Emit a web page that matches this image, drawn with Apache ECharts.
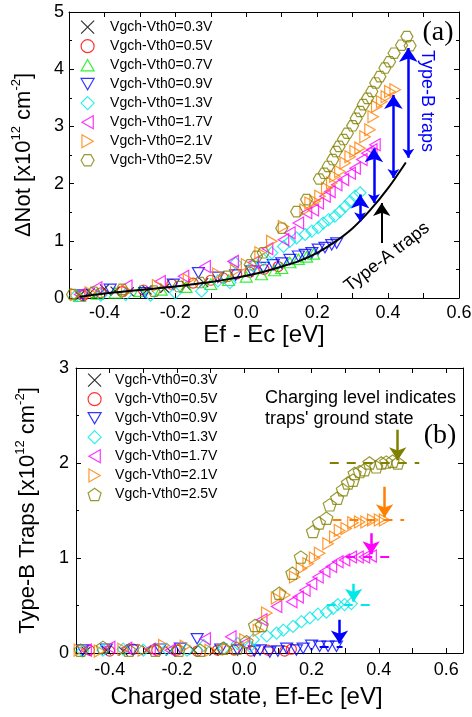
<!DOCTYPE html>
<html>
<head>
<meta charset="utf-8">
<script src="https://cdn.jsdelivr.net/npm/echarts@6/dist/echarts.min.js"></script>
<style>
  html, body { margin: 0; padding: 0; background: #fff; }
  #chart { width: 472px; height: 717px; }
</style>
</head>
<body>
<div id="chart"></div>
<script>
// ---------- data: panel (a), ΔNot vs Ef - Ec ----------
const legendNames = ['Vgch-Vth0=0.3V', 'Vgch-Vth0=0.5V', 'Vgch-Vth0=0.7V', 'Vgch-Vth0=0.9V',
                     'Vgch-Vth0=1.3V', 'Vgch-Vth0=1.7V', 'Vgch-Vth0=2.1V', 'Vgch-Vth0=2.5V'];

const notV03 = [[-0.47,0.04],[-0.44,0.09],[-0.40,0.16],[-0.37,0.12],[-0.33,0.11],[-0.28,0.14],[-0.23,0.17],[-0.17,0.22],[-0.12,0.27]];
const notV05 = [[-0.46,0.04],[-0.41,0.09],[-0.35,0.11],[-0.29,0.14],[-0.21,0.24],[-0.15,0.26],[-0.10,0.31],[-0.065,0.35],[-0.027,0.42],[0.01,0.45],[0.05,0.50],[0.09,0.55]];
const notV07 = [[-0.47,0.03],[-0.42,0.07],[-0.37,0.09],[-0.30,0.12],[-0.24,0.14],[-0.17,0.19],[-0.10,0.24],[-0.05,0.31],[0.0,0.37],[0.043,0.41],[0.08,0.48],[0.10,0.52],[0.123,0.62],[0.147,0.68],[0.17,0.72],[0.19,0.77]];
const notV09 = [[-0.46,0.05],[-0.384,0.15],[-0.286,0.09],[-0.206,0.24],[-0.135,0.44],[-0.08,0.36],[-0.03,0.40],[0.015,0.47],[0.048,0.53],[0.076,0.58],[0.10,0.61],[0.123,0.67],[0.147,0.73],[0.166,0.76],[0.185,0.79],[0.203,0.85],[0.222,0.88],[0.241,0.93],[0.255,0.96]];
const notV13 = [[-0.48,0.04],[-0.41,0.05],[-0.34,0.06],[-0.27,0.05],[-0.20,0.09],[-0.126,0.12],[-0.08,0.30],[-0.046,0.27],[-0.03,0.61],[0.02,0.56],[0.048,0.67],[0.072,0.79],[0.105,0.90],[0.123,0.99],[0.142,1.05],[0.166,1.11],[0.185,1.17],[0.203,1.23],[0.217,1.31],[0.232,1.37],[0.25,1.43],[0.264,1.51],[0.279,1.60],[0.293,1.69],[0.307,1.78],[0.321,1.84]];
const notV17 = [[-0.47,0.06],[-0.422,0.18],[-0.337,0.21],[-0.243,0.29],[-0.177,0.38],[-0.116,0.55],[-0.037,0.64],[0.02,0.62],[0.06,0.86],[0.105,1.02],[0.123,1.14],[0.147,1.31],[0.17,1.49],[0.189,1.54],[0.203,1.66],[0.222,1.78],[0.236,1.86],[0.255,1.98],[0.274,2.07],[0.293,2.18],[0.307,2.27],[0.326,2.42],[0.34,2.53],[0.354,2.59],[0.363,2.68]];
const notV21 = [[-0.48,0.06],[-0.44,0.09],[-0.337,0.12],[-0.25,0.22],[-0.163,0.32],[-0.08,0.42],[-0.03,0.48],[0.001,0.58],[0.039,0.79],[0.072,0.99],[0.105,1.25],[0.166,1.54],[0.18,1.66],[0.194,1.69],[0.208,1.78],[0.227,1.92],[0.241,2.01],[0.25,2.13],[0.264,2.21],[0.279,2.36],[0.293,2.47],[0.307,2.56],[0.321,2.62],[0.335,2.82],[0.349,2.94],[0.358,3.17],[0.368,3.35],[0.382,3.43],[0.395,3.52],[0.405,3.61],[0.42,3.64]];
const notV25 = [[-0.49,0.06],[-0.43,0.10],[-0.35,0.15],[-0.26,0.12],[-0.19,0.20],[-0.13,0.27],[-0.055,0.38],[0.011,0.58],[0.029,0.73],[0.048,0.79],[0.10,1.22],[0.142,1.51],[0.17,1.72],[0.206,2.08],[0.22,2.18],[0.231,2.30],[0.244,2.42],[0.253,2.56],[0.262,2.65],[0.274,2.77],[0.285,2.88],[0.30,3.01],[0.31,3.14],[0.321,3.26],[0.33,3.38],[0.342,3.49],[0.354,3.61],[0.365,3.76],[0.377,3.87],[0.391,4.02],[0.404,4.13],[0.417,4.28],[0.438,4.42],[0.462,4.41],[0.453,4.57]];

// Type-A trap background curve
const typeAx = [-0.47, -0.45, -0.4, -0.35, -0.3, -0.25, -0.2, -0.15, -0.1, -0.05, 0.0, 0.05, 0.1, 0.15, 0.2, 0.25, 0.3, 0.35, 0.4, 0.45];
const typeAy = [0.02, 0.04, 0.08, 0.11, 0.14, 0.17, 0.20, 0.24, 0.28, 0.33, 0.39, 0.46, 0.55, 0.65, 0.79, 0.98, 1.22, 1.54, 1.92, 2.37];

// Type-B double arrows: [x, bottom, top]
const typeBArrows = [[0.457, 2.45, 4.37], [0.415, 2.10, 3.55], [0.360, 1.66, 2.62], [0.321, 1.34, 1.81]];
// Type-A pointer: [x, tail, tip]
const typeAPointer = [0.382, 0.96, 1.66];

// ---------- data: panel (b), Type-B traps vs charged state ----------
const trapV03 = [[-0.47,0.02],[-0.41,0.03],[-0.36,0.02],[-0.29,0.03],[-0.22,0.02],[-0.15,0.03],[-0.09,0.02]];
const trapV05 = [[-0.46,0.03],[-0.40,0.02],[-0.33,0.04],[-0.26,0.03],[-0.20,0.03],[-0.14,0.02],[-0.08,0.03],[-0.03,0.03],[0.02,0.02],[0.07,0.03],[0.12,0.02],[0.14,0.04]];
const trapV09 = [[-0.48,0.03],[-0.41,0.04],[-0.33,0.03],[-0.25,0.04],[-0.19,0.05],[-0.14,0.15],[-0.07,0.04],[-0.02,0.03],[0.03,0.02],[0.047,0.03],[0.076,0.01],[0.10,0.02],[0.126,0.05],[0.155,0.03],[0.175,0.05],[0.20,0.08],[0.224,0.07],[0.249,0.07],[0.274,0.07]];
const trapV13 = [[-0.48,0.02],[-0.42,0.03],[-0.36,0.04],[-0.30,0.03],[-0.23,0.04],[-0.17,0.03],[-0.12,0.08],[-0.06,0.05],[-0.02,0.10],[0.017,0.07],[0.027,0.14],[0.067,0.18],[0.096,0.21],[0.116,0.24],[0.145,0.28],[0.17,0.33],[0.195,0.37],[0.219,0.41],[0.244,0.43],[0.264,0.47],[0.278,0.51],[0.298,0.51],[0.318,0.52]];
const trapV17 = [[-0.47,0.03],[-0.40,0.06],[-0.35,0.05],[-0.28,0.04],[-0.22,0.03],[-0.116,0.15],[-0.04,0.17],[0.0,0.10],[0.052,0.35],[0.096,0.49],[0.141,0.54],[0.16,0.59],[0.18,0.66],[0.20,0.73],[0.219,0.80],[0.239,0.86],[0.259,0.91],[0.278,0.96],[0.298,0.98],[0.318,1.01],[0.338,1.01],[0.357,1.01],[0.377,1.02]];
const trapV21 = [[-0.49,0.03],[-0.43,0.02],[-0.36,0.04],[-0.30,0.03],[-0.239,0.08],[-0.175,0.07],[-0.101,0.03],[-0.05,0.04],[0.002,0.14],[0.042,0.24],[0.067,0.42],[0.096,0.58],[0.121,0.61],[0.15,0.80],[0.17,0.89],[0.19,0.94],[0.209,1.00],[0.224,1.05],[0.249,1.15],[0.269,1.22],[0.283,1.29],[0.303,1.31],[0.323,1.37],[0.343,1.38],[0.362,1.38],[0.382,1.40],[0.402,1.40],[0.417,1.40]];
const trapV25 = [[-0.486,0.03],[-0.42,0.06],[-0.343,0.03],[-0.264,0.03],[-0.195,0.03],[-0.131,0.03],[-0.062,0.05],[-0.022,0.05],[0.007,0.12],[0.032,0.29],[0.052,0.29],[0.104,0.63],[0.143,0.84],[0.168,1.01],[0.204,1.28],[0.222,1.37],[0.244,1.42],[0.254,1.56],[0.276,1.63],[0.293,1.72],[0.308,1.79],[0.323,1.82],[0.328,1.89],[0.343,1.91],[0.357,1.93],[0.372,2.00],[0.392,1.96],[0.407,2.00],[0.422,2.01],[0.441,2.02],[0.456,2.00]];

// Charging levels (dashed): [xStart, xEnd, level], for 2.5, 2.1, 1.7, 1.3, 0.9 V
const levelLines = [[0.254, 0.52, 2.0], [0.262, 0.475, 1.40], [0.303, 0.452, 1.01], [0.245, 0.387, 0.505], [0.224, 0.292, 0.07]];
// Ground-state pointers: [x, tail, tip]
const levelArrows = [[0.456, 2.35, 2.03], [0.417, 1.75, 1.43], [0.377, 1.26, 1.04], [0.325, 0.73, 0.54], [0.283, 0.35, 0.10]];

// ---------- styling ----------
const FONT = '"Liberation Sans", Arial, sans-serif';
const C = { v03: '#000000', v05: '#ff0000', v07: '#00ee00', v09: '#0000ff', v13: '#00e8e8',
            v17: '#ff00ff', v21: '#ff8000', v25: '#808000' };
const levelColors = [C.v25, C.v21, C.v17, C.v13, C.v09];

const SYM = {
  cross: 'path://M0,0L10,10M10,0L0,10',
  circle: 'circle',
  up: 'path://M5,0L10,8.7L0,8.7Z',
  down: 'path://M0,0L10,0L5,8.7Z',
  left: 'path://M0,5L8.7,0L8.7,10Z',
  right: 'path://M0,0L8.7,5L0,10Z',
  diamond: 'path://M5,0L10,5L5,10L0,5Z',
  hex: 'path://M2.5,0L7.5,0L10,4.33L7.5,8.66L2.5,8.66L0,4.33Z',
  pent: 'path://M5,0L10,3.63L8.09,9.51L1.91,9.51L0,3.63Z'
};

function scatter(name, data, sym, color, size, idx) {
  return {
    type: 'scatter', name: name, data: data, xAxisIndex: idx, yAxisIndex: idx,
    symbol: sym, symbolSize: size, symbolKeepAspect: true,
    itemStyle: { color: 'rgba(0,0,0,0)', borderColor: color, borderWidth: 1.2 },
    silent: true, z: 3
  };
}

function vArrows(list, color, both, idx, width, size) {
  return {
    type: 'lines', coordinateSystem: 'cartesian2d', xAxisIndex: idx, yAxisIndex: idx,
    data: list.map(a => ({ coords: [[a[0], a[1]], [a[0], a[2]]] })),
    symbol: both ? ['arrow', 'arrow'] : ['none', 'arrow'], symbolSize: size,
    lineStyle: { color: color, width: width, opacity: 1 }, silent: true, z: 5
  };
}

function tenths(v) {
  const k = Math.round(v * 10);
  if (Math.abs(v * 10 - k) > 1e-6 || k % 2 !== 0) return '';
  return (k / 10).toFixed(1);
}

const frame = {
  axisLine: { show: true, onZero: false, lineStyle: { color: '#000', width: 1 } },
  axisTick: { show: true, inside: true, length: 5, lineStyle: { color: '#000', width: 1 } },
  splitLine: { show: false }
};
const tickFont = { fontSize: 18, color: '#000', fontFamily: FONT };
const xTitleFont = { fontSize: 24, color: '#000', fontFamily: FONT };
const yTitleFont = { fontSize: 22, color: '#000', fontFamily: FONT };
const supRich = { sup: { fontSize: 13, fontFamily: FONT, color: '#000', padding: [0, 0, 15, 0] } };

function xAxes(grid, min, max, name, gap, margin, pad) {
  return [
    Object.assign({ type: 'value', gridIndex: grid, position: 'bottom', min: min, max: max, interval: 0.1,
      axisLabel: Object.assign({ formatter: tenths, margin: margin, hideOverlap: false }, tickFont),
      name: name, nameLocation: 'middle', nameGap: gap,
      nameTextStyle: Object.assign({ padding: pad }, xTitleFont) }, frame),
    Object.assign({ type: 'value', gridIndex: grid, position: 'top', min: min, max: max, interval: 0.1,
      axisLabel: { show: false } }, frame)
  ];
}
function yAxes(grid, max, name, gap, margin) {
  return [
    Object.assign({ type: 'value', gridIndex: grid, position: 'left', min: 0, max: max, interval: 1,
      minorTick: { show: true, splitNumber: 2, length: 3, lineStyle: { color: '#000' } },
      axisLabel: Object.assign({ margin: margin }, tickFont),
      name: name, nameLocation: 'middle', nameGap: gap,
      nameTextStyle: Object.assign({ rich: supRich }, yTitleFont) }, frame),
    Object.assign({ type: 'value', gridIndex: grid, position: 'right', min: 0, max: max, interval: 1,
      minorTick: { show: true, splitNumber: 2, length: 3, lineStyle: { color: '#000' } },
      axisLabel: { show: false } }, frame)
  ];
}

const seriesA = [
  scatter(legendNames[0], notV03, SYM.cross, C.v03, 9, 0),
  scatter(legendNames[1], notV05, SYM.circle, C.v05, 10, 0),
  scatter(legendNames[2], notV07, SYM.up, C.v07, 12, 0),
  scatter(legendNames[3], notV09, SYM.down, C.v09, 12, 0),
  scatter(legendNames[4], notV13, SYM.diamond, C.v13, 12, 0),
  scatter(legendNames[5], notV17, SYM.left, C.v17, 12, 0),
  scatter(legendNames[6], notV21, SYM.right, C.v21, 12, 0),
  scatter(legendNames[7], notV25, SYM.hex, C.v25, 12, 0),
  {
    type: 'line', xAxisIndex: 0, yAxisIndex: 0, data: typeAx.map((x, i) => [x, typeAy[i]]),
    smooth: 0.3, showSymbol: false, lineStyle: { color: '#000', width: 2 }, silent: true, z: 4
  },
  vArrows(typeBArrows, '#0000ff', true, 0, 2.5, [9, 14]),
  vArrows([typeAPointer], '#000000', false, 0, 2, [8, 13])
];

const seriesB = [
  scatter(legendNames[0], trapV03, SYM.cross, C.v03, 9, 2),
  scatter(legendNames[1], trapV05, SYM.circle, C.v05, 10, 2),
  scatter(legendNames[3], trapV09, SYM.down, C.v09, 12, 2),
  scatter(legendNames[4], trapV13, SYM.diamond, C.v13, 12, 2),
  scatter(legendNames[5], trapV17, SYM.left, C.v17, 12, 2),
  scatter(legendNames[6], trapV21, SYM.right, C.v21, 12, 2),
  scatter(legendNames[7], trapV25, SYM.pent, C.v25, 13, 2)
];
levelLines.forEach((l, i) => {
  seriesB.push({
    type: 'lines', coordinateSystem: 'cartesian2d', xAxisIndex: 2, yAxisIndex: 2,
    data: [{ coords: [[l[0], l[2]], [l[1], l[2]]] }], symbol: 'none',
    lineStyle: { color: levelColors[i], width: 2, type: [9, 8], opacity: 1 }, silent: true, z: 4
  });
  seriesB.push(vArrows([levelArrows[i]], levelColors[i], false, 2, 2.5, [8, 13]));
});

const legendA = legendNames.map(n => ({ name: n }));
const legendB = [0, 1, 3, 4, 5, 6, 7].map(i => i === 7 ? { name: legendNames[i], icon: SYM.pent } : { name: legendNames[i] });

const chart = echarts.init(document.getElementById('chart'), null, { renderer: 'canvas' });
chart.setOption({
  animation: false,
  backgroundColor: '#fff',
  grid: [
    { left: 69, top: 12, width: 390, height: 286, outerBoundsMode: 'none' },
    { left: 76, top: 368, width: 387, height: 285, outerBoundsMode: 'none' }
  ],
  xAxis: [].concat(
    xAxes(0, -0.5, 0.6, 'Ef - Ec [eV]', 24, 6, [0, 0, 0, 0]),
    xAxes(1, -0.5, 0.65, 'Charged state, Ef-Ec [eV]', 32, 8, [0, 46, 0, 0])
  ),
  yAxis: [].concat(
    yAxes(0, 5, 'ΔNot [x10{sup|12} cm{sup|-2}]', 31, 5),
    yAxes(1, 3, 'Type-B Traps [x10{sup|12} cm{sup|-2}]', 34, 7)
  ),
  legend: [
    { data: legendA, orient: 'vertical', left: 80.5, top: 20, padding: 0, itemGap: 4.9,
      itemWidth: 13, itemHeight: 13, selectedMode: false,
      itemStyle: { borderWidth: 1.2 },
      textStyle: { fontSize: 14, fontFamily: FONT, color: '#000', padding: [0, 0, 0, 11] } },
    { data: legendB, orient: 'vertical', left: 87.5, top: 373, padding: 0, itemGap: 4.9,
      itemWidth: 13, itemHeight: 13, selectedMode: false,
      itemStyle: { borderWidth: 1.2 },
      textStyle: { fontSize: 14, fontFamily: FONT, color: '#000', padding: [0, 0, 0, 9] } }
  ],
  graphic: [
    { type: 'text', x: 438, y: 33, style: { text: '(a)', font: '28px "Liberation Serif", serif', fill: '#000', align: 'center', verticalAlign: 'middle' } },
    { type: 'text', x: 440, y: 436, style: { text: '(b)', font: '28px "Liberation Serif", serif', fill: '#000', align: 'center', verticalAlign: 'middle' } },
    { type: 'text', x: 427, y: 101, rotation: -Math.PI / 2, style: { text: 'Type-B traps', font: '18px ' + FONT, fill: '#0000ff', align: 'center', verticalAlign: 'middle' } },
    { type: 'text', x: 387, y: 257, rotation: 0.656, style: { text: 'Type-A traps', font: '18px ' + FONT, fill: '#000', align: 'center', verticalAlign: 'middle' } },
    { type: 'text', x: 265, y: 398, style: { text: 'Charging level indicates', font: '18px ' + FONT, fill: '#000', align: 'left', verticalAlign: 'middle' } },
    { type: 'text', x: 265, y: 419, style: { text: "traps' ground state", font: '18px ' + FONT, fill: '#000', align: 'left', verticalAlign: 'middle' } }
  ],
  series: seriesA.concat(seriesB)
});
</script>
</body>
</html>
